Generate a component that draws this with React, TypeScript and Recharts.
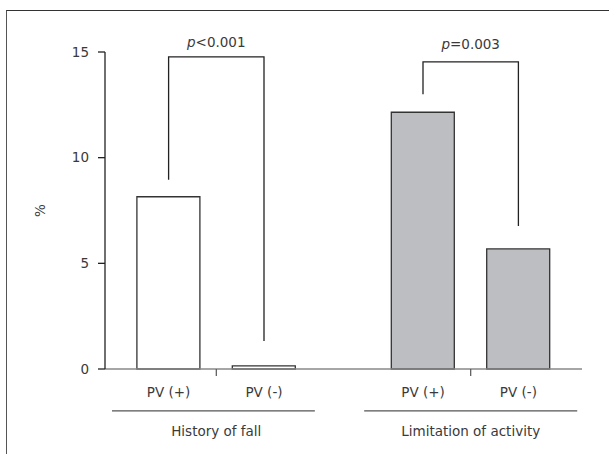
import React from 'react';
import { ComposedChart, Bar, Cell, Line, XAxis, YAxis, ReferenceLine, ReferenceDot } from 'recharts';

// Data
const categories = ['PV (+)', 'PV (-)', 'PV (+)', 'PV (-)'];
const positions = [2, 5, 10, 13];
const values = [8.15, 0.15, 12.15, 5.68];
const fills = ['#ffffff', '#ffffff', '#bdbec2', '#bdbec2'];
const groups = ['History of fall', 'Limitation of activity'];
const groupCenters = [3.5, 11.5];
const groupSpans: [number, number][] = [[0.22, 6.6], [8.15, 14.85]];
const pLabels = ['<0.001', '=0.003'];
const bracket1 = [
  { x: 2, y: 8.95 },
  { x: 2, y: 14.77 },
  { x: 5, y: 14.77 },
  { x: 5, y: 1.33 },
];
const bracket2 = [
  { x: 10, y: 13.0 },
  { x: 10, y: 14.53 },
  { x: 13, y: 14.53 },
  { x: 13, y: 6.77 },
];
const brackets = [bracket1, bracket2];
const yTicks = [0, 5, 10, 15];

const barData = categories.map((c, i) => ({ x: positions[i], value: values[i], name: c }));
const xTicks = [...positions, ...groupCenters].sort((a, b) => a - b);

const FONT = '"DejaVu Sans", sans-serif';
const FS = 13.5;
const TEXT = '#3a3a3a';

const XTick = (props: any) => {
  const { x, y, payload } = props;
  const v = payload.value;
  const gi = groupCenters.indexOf(v);
  if (gi >= 0) {
    return (
      <g>
        <line x1={x} y1={y} x2={x} y2={y + 7} stroke="#555" strokeWidth={1.2} />
        <text x={x} y={y + 67} textAnchor="middle" fontFamily={FONT} fontSize={FS} fill={TEXT}>
          {groups[gi]}
        </text>
      </g>
    );
  }
  const pi = positions.indexOf(v);
  return (
    <text x={x} y={y + 28} textAnchor="middle" fontFamily={FONT} fontSize={FS} fill={TEXT}>
      {categories[pi]}
    </text>
  );
};

const pLabelOffsets = [10, 13];
const makePLabel = (i: number) => (props: any) => {
  const vb = props.viewBox || {};
  const cx = (vb.x ?? 0) + (vb.width ?? 0) / 2;
  const cy = (vb.y ?? 0) + (vb.height ?? 0) / 2;
  return (
    <text x={cx} y={cy - pLabelOffsets[i]} textAnchor="middle" fontFamily={FONT} fontSize={FS} fill={TEXT}>
      <tspan fontStyle="italic">p</tspan>
      <tspan>{pLabels[i]}</tspan>
    </text>
  );
};

export default function App() {
  return (
    <div style={{ position: 'absolute', left: 0, top: 0, width: 609, height: 454, background: '#fff' }}>
      <div
        style={{
          position: 'absolute',
          left: 6,
          top: 10,
          width: 603,
          height: 444,
          borderLeft: '1.5px solid #555',
          borderTop: '1.5px solid #333',
        }}
      />
      <div style={{ position: 'absolute', left: 0, top: 0 }}>
        <ComposedChart width={609} height={454} data={barData} margin={{ top: 52, right: 27, left: 0, bottom: 0 }}>
          <XAxis
            dataKey="x"
            type="number"
            domain={[0, 15]}
            ticks={xTicks}
            interval={0}
            tickSize={0}
            tickMargin={0}
            tickLine={false}
            axisLine={{ stroke: '#888', strokeWidth: 1.5 }}
            tick={<XTick />}
            height={85}
            allowDecimals
          />
          <YAxis
            type="number"
            domain={[0, 15]}
            ticks={yTicks}
            width={105}
            tickSize={7}
            tickMargin={9}
            axisLine={{ stroke: '#222', strokeWidth: 1.3 }}
            tickLine={{ stroke: '#222', strokeWidth: 1.3 }}
            tick={{ fontFamily: FONT, fontSize: FS, fill: TEXT }}
            label={{ value: '%', angle: -90, position: 'insideLeft', offset: 40, style: { textAnchor: 'middle', fontFamily: FONT, fontSize: FS, fill: TEXT } }}
          />
          <Bar dataKey="value" barSize={63} stroke="#333" strokeWidth={1.3} isAnimationActive={false}>
            {barData.map((d, i) => (
              <Cell key={i} fill={fills[i]} />
            ))}
          </Bar>
          {brackets.map((b, i) => (
            <Line
              key={'br' + i}
              data={b}
              dataKey="y"
              type="linear"
              stroke="#222"
              strokeWidth={1.3}
              dot={false}
              activeDot={false}
              isAnimationActive={false}
            />
          ))}
          {brackets.map((b, i) => (
            <ReferenceDot
              key={'pl' + i}
              x={groupCenters[i]}
              y={b[1].y}
              r={0}
              fill="none"
              stroke="none"
              label={makePLabel(i)}
            />
          ))}
          {groupSpans.map((s, i) => (
            <ReferenceLine
              key={'gl' + i}
              segment={[{ x: s[0], y: -1.98 }, { x: s[1], y: -1.98 }]}
              stroke="#555"
              strokeWidth={1.3}
              ifOverflow="visible"
            />
          ))}
        </ComposedChart>
      </div>
    </div>
  );
}
